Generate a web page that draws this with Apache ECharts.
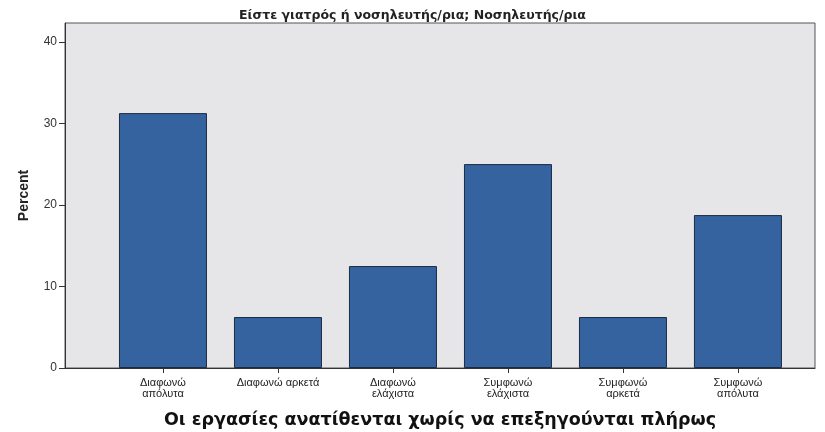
<!DOCTYPE html>
<html>
<head>
<meta charset="utf-8">
<script src="https://cdn.jsdelivr.net/npm/echarts@6/dist/echarts.min.js"></script>
<style>
  html, body { margin: 0; padding: 0; background: #ffffff; }
  #chart { width: 825px; height: 432px; }
</style>
</head>
<body>
<div id="chart"></div>
<script>
// categories and percentages
var categories = ['Διαφωνώ\nαπόλυτα', 'Διαφωνώ αρκετά', 'Διαφωνώ\nελάχιστα',
                  'Συμφωνώ\nελάχιστα', 'Συμφωνώ\nαρκετά', 'Συμφωνώ\nαπόλυτα'];
var percents = [31.25, 6.25, 12.5, 25, 6.25, 18.75];
var yTicks = [0, 10, 20, 30, 40];

var positions = categories.map(function(c, i) { return i; });
var barData = percents.map(function(v, i) { return [i, v]; });

var chart = echarts.init(document.getElementById('chart'));
chart.setOption({
    backgroundColor: '#ffffff',
    animation: false,
    title: {
        text: 'Είστε γιατρός ή νοσηλευτής/ρια; Νοσηλευτής/ρια',
        left: 'center',
        top: 4,
        textStyle: {
            fontFamily: 'DejaVu Sans',
            fontSize: 12.5,
            fontWeight: 'bold',
            color: '#222'
        }
    },
    grid: {
        left: 65,
        right: 10,
        top: 23,
        bottom: 64,
        outerBoundsMode: 'none',
        show: true,
        backgroundColor: '#e6e6e9',
        borderColor: '#555',
        borderWidth: 1
    },
    xAxis: {
        type: 'value',
        min: -0.852,
        max: 5.67,
        name: 'Οι εργασίες ανατίθενται χωρίς να επεξηγούνται πλήρως',
        nameLocation: 'middle',
        nameGap: 43,
        nameTextStyle: {
            fontFamily: 'DejaVu Sans',
            fontSize: 17.5,
            fontWeight: 'bold',
            color: '#111'
        },
        splitLine: { show: false },
        axisLine: { onZero: false, lineStyle: { color: '#333', width: 1 } },
        axisTick: {
            customValues: positions,
            length: 5,
            lineStyle: { color: '#333' }
        },
        axisLabel: {
            customValues: positions,
            margin: 9,
            lineHeight: 11,
            fontFamily: 'Liberation Sans',
            fontSize: 11,
            color: '#222',
            formatter: function(v) { return categories[Math.round(v)]; }
        }
    },
    yAxis: {
        type: 'value',
        min: 0,
        max: 42.3,
        name: 'Percent',
        nameLocation: 'middle',
        nameGap: 34,
        nameTextStyle: {
            fontFamily: 'Liberation Sans',
            fontSize: 14,
            fontWeight: 'bold',
            color: '#222'
        },
        splitLine: { show: false },
        axisLine: { show: true, onZero: false, lineStyle: { color: '#333', width: 1 } },
        axisTick: {
            show: true,
            customValues: yTicks,
            length: 6,
            lineStyle: { color: '#333' }
        },
        axisLabel: {
            customValues: yTicks,
            margin: 8,
            fontFamily: 'Liberation Sans',
            fontSize: 12,
            color: '#333'
        }
    },
    series: [{
        type: 'bar',
        data: barData,
        barWidth: 88,
        itemStyle: {
            color: '#34639f',
            borderColor: '#1c2b45',
            borderWidth: 1
        }
    }]
});
</script>
</body>
</html>
